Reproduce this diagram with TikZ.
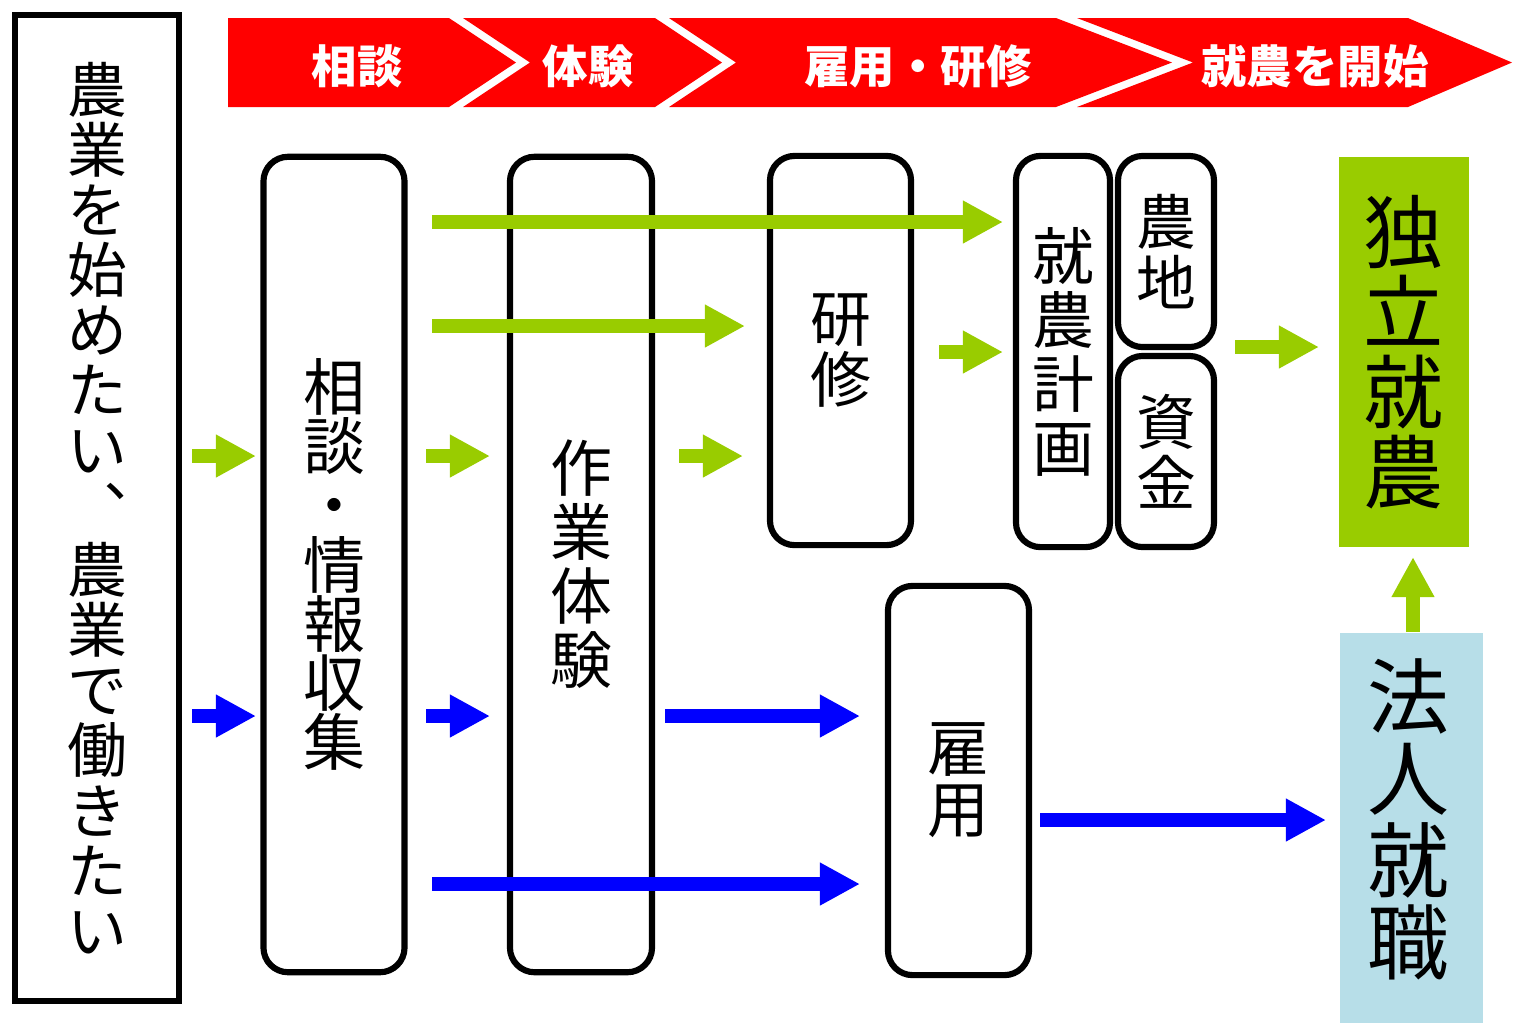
\documentclass[tikz,border=0pt]{standalone}
\usepackage{fontspec}
\setmainfont{Noto Sans CJK JP}
\usetikzlibrary{arrows.meta}
\definecolor{agreen}{HTML}{99CC00}
\definecolor{ablue}{HTML}{0000FF}
\definecolor{ared}{HTML}{FF0000}
\definecolor{lblue}{HTML}{B7DEE8}
\newcommand\myfs[2]{\fontsize{#1}{#2}\selectfont\lineskiplimit=-100pt\lineskip=0pt}
\tikzset{
  rbox/.style={draw=black, line width=1.75pt, rounded corners=7pt, inner sep=0pt, align=center},
  garrow/.style={agreen, line width=4pt, -{Triangle[length=11.4pt,width=11.4pt]}},
  barrow/.style={ablue, line width=4pt, -{Triangle[length=11.4pt,width=11.4pt]}},
  bannertext/.style={text=white, inner sep=0pt, font=\myfs{12.9pt}{15pt}\bfseries},
  band/.style={fill=ared, draw=none},
}
\begin{document}
\begin{tikzpicture}[x=0.01cm,y=-0.01cm]
\useasboundingbox (0,0) rectangle (1520,1032);
% banner
\fill[band] (228,18) -- (449,18) -- (516,62.5) -- (449,107) -- (228,107) -- cycle;
\fill[band] (463,18) -- (655,18) -- (722,62.5) -- (655,107) -- (463,107) -- (530,62.5) -- cycle;
\fill[band] (669,18) -- (1056,18) -- (1172,62.5) -- (1056,107) -- (669,107) -- (736,62.5) -- cycle;
\fill[band] (1077,18) -- (1408,18) -- (1512,62.5) -- (1408,107) -- (1077,107) -- (1193,62.5) -- cycle;
\node[bannertext] (t1) at (357,66) {相談};
\node[bannertext] (t2) at (588,66) {体験};
\node[bannertext] (t3) at (918,66) {雇用・研修};
\node[bannertext] (t4) at (1315,66) {就農を開始};
% left box
\node[draw=black, line width=1.75pt, inner sep=0pt, align=center,
      minimum width=1.64cm, minimum height=9.86cm,
      font=\myfs{17pt}{17.07pt}] (start) at (97,508)
  {農\\業\\を\\始\\め\\た\\い\\︑\\農\\業\\で\\働\\き\\た\\い};
% rounded boxes
\node[rbox, minimum width=1.41cm, minimum height=8.15cm, font=\myfs{17.6pt}{16.8pt}] (a) at (334,564.5)
  {相\\談\\・\\情\\報\\収\\集};
\node[rbox, minimum width=1.42cm, minimum height=8.15cm, font=\myfs{17.6pt}{18.2pt}] (b) at (581,564.5)
  {作\\業\\体\\験};
\node[rbox, minimum width=1.41cm, minimum height=3.89cm, font=\myfs{17.3pt}{17.6pt}] (c) at (840.5,350.5)
  {研\\修};
\node[rbox, minimum width=0.94cm, minimum height=3.91cm, font=\myfs{17.6pt}{18.2pt}] (d) at (1063,351.5)
  {就\\農\\計\\画};
\node[rbox, minimum width=0.96cm, minimum height=1.91cm, font=\myfs{17pt}{17.4pt}] (e) at (1166,251.5)
  {農\\地};
\node[rbox, minimum width=0.96cm, minimum height=1.91cm, font=\myfs{17pt}{17.4pt}] (f) at (1166,451.5)
  {資\\金};
\node[rbox, minimum width=1.41cm, minimum height=3.89cm, font=\myfs{17.6pt}{17.4pt}] (g) at (958.5,780.5)
  {雇\\用};
% result boxes
\node[fill=agreen, inner sep=0pt, align=center, minimum width=1.30cm, minimum height=3.90cm,
      font=\myfs{22.8pt}{22.8pt}] (indep) at (1404,352) {独\\立\\就\\農};
\node[fill=lblue, inner sep=0pt, minimum width=1.43cm, minimum height=3.90cm] (corp) at (1411.5,828) {};
\node[inner sep=0pt, align=center, font=\myfs{23.3pt}{23.3pt}] (corptext) at (1408,819) {法\\人\\就\\職};
% arrow coordinates
\coordinate (g1s) at (432,222);  \coordinate (g1e) at (1003,222);
\coordinate (g2s) at (432,326);  \coordinate (g2e) at (745,326);
\coordinate (g3s) at (939,352);  \coordinate (g3e) at (1003,352);
\coordinate (g4s) at (1235,347); \coordinate (g4e) at (1319,347);
\coordinate (g5s) at (192,456);  \coordinate (g5e) at (256,456);
\coordinate (g6s) at (426,456);  \coordinate (g6e) at (490,456);
\coordinate (g7s) at (679,456);  \coordinate (g7e) at (743,456);
\coordinate (ups) at (1413,632); \coordinate (upe) at (1413,557);
\coordinate (b1s) at (192,716);  \coordinate (b1e) at (256,716);
\coordinate (b2s) at (426,716);  \coordinate (b2e) at (490,716);
\coordinate (b3s) at (665,716);  \coordinate (b3e) at (860,716);
\coordinate (b4s) at (432,884);  \coordinate (b4e) at (860,884);
\coordinate (b5s) at (1040,820); \coordinate (b5e) at (1326,820);
% arrows
\draw[garrow] (g1s) -- (g1e);
\draw[garrow] (g2s) -- (g2e);
\draw[garrow] (g3s) -- (g3e);
\draw[garrow] (g4s) -- (g4e);
\draw[garrow] (g5s) -- (g5e);
\draw[garrow] (g6s) -- (g6e);
\draw[garrow] (g7s) -- (g7e);
\draw[garrow] (ups) -- (upe);
\draw[barrow] (b1s) -- (b1e);
\draw[barrow] (b2s) -- (b2e);
\draw[barrow] (b3s) -- (b3e);
\draw[barrow] (b4s) -- (b4e);
\draw[barrow] (b5s) -- (b5e);
\end{tikzpicture}
\end{document}
